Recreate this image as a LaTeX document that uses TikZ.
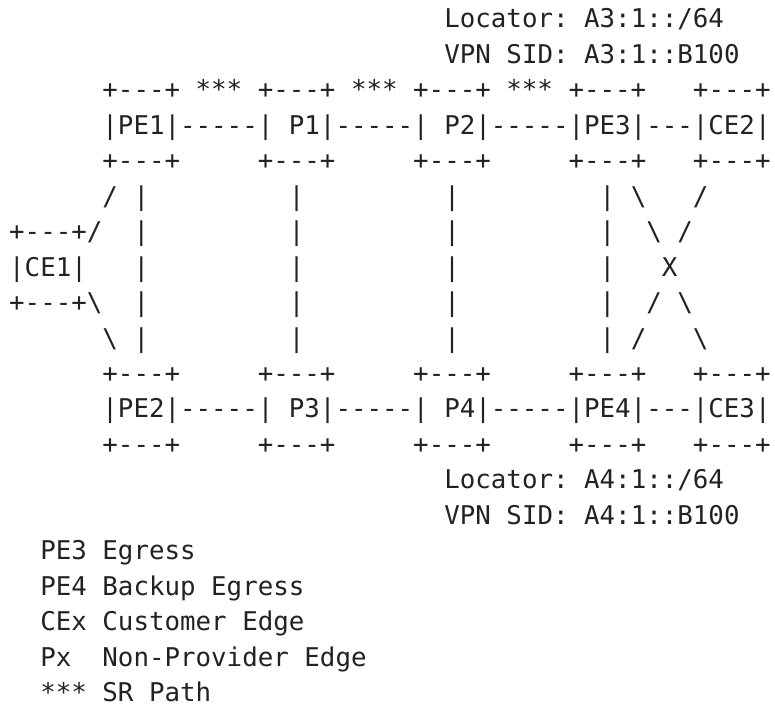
\documentclass[tikz,border=0pt]{standalone}
\usepackage{fontspec}
\setmonofont{DejaVu Sans Mono}
\definecolor{ink}{HTML}{222222}
\tikzset{
  ascii/.style={inner sep=0pt, outer sep=0pt, anchor=base west, text=ink,
    font=\ttfamily\frenchspacing\fontsize{25.81}{30}\selectfont}
}
% one run of characters at text row #1, character column #2
\newcommand\seg[3]{\node[ascii] (s#1-#2) at ({9.2+15.54*#2},{-(28+35.45*#1)}) {#3};}
\newcommand\bs{{\textbackslash}}
\begin{document}
\begin{tikzpicture}[x=1pt,y=1pt]
  \fill[white] (0,0) rectangle (775,-709);
  \useasboundingbox (0,0) rectangle (775,-709);
  % locator of PE3
  \seg{0}{28}{Locator: A3:1::/64}
  \seg{1}{28}{VPN SID: A3:1::B100}
  % upper chain PE1 - P1 - P2 - PE3 - CE2
  \seg{2}{6}{+---+ *** +---+ *** +---+ *** +---+}
  \seg{2}{44}{+---+}
  \seg{3}{6}{|PE1|-----| P1|-----| P2|-----|PE3|---|CE2|}
  \seg{4}{6}{+---+} \seg{4}{16}{+---+} \seg{4}{26}{+---+} \seg{4}{36}{+---+} \seg{4}{44}{+---+}
  % vertical links, CE1 and the cross to CE2/CE3
  \seg{5}{6}{/ |} \seg{5}{18}{|} \seg{5}{28}{|} \seg{5}{38}{| \bs} \seg{5}{44}{/}
  \seg{6}{0}{+---+/} \seg{6}{8}{|} \seg{6}{18}{|} \seg{6}{28}{|} \seg{6}{38}{|} \seg{6}{41}{\bs{} /}
  \seg{7}{0}{|CE1|} \seg{7}{8}{|} \seg{7}{18}{|} \seg{7}{28}{|} \seg{7}{38}{|} \seg{7}{42}{X}
  \seg{8}{0}{+---+\bs} \seg{8}{8}{|} \seg{8}{18}{|} \seg{8}{28}{|} \seg{8}{38}{|} \seg{8}{41}{/ \bs}
  \seg{9}{6}{\bs{} |} \seg{9}{18}{|} \seg{9}{28}{|} \seg{9}{38}{| /} \seg{9}{44}{\bs}
  % lower chain PE2 - P3 - P4 - PE4 - CE3
  \seg{10}{6}{+---+} \seg{10}{16}{+---+} \seg{10}{26}{+---+} \seg{10}{36}{+---+} \seg{10}{44}{+---+}
  \seg{11}{6}{|PE2|-----| P3|-----| P4|-----|PE4|---|CE3|}
  \seg{12}{6}{+---+} \seg{12}{16}{+---+} \seg{12}{26}{+---+} \seg{12}{36}{+---+} \seg{12}{44}{+---+}
  % locator of PE4
  \seg{13}{28}{Locator: A4:1::/64}
  \seg{14}{28}{VPN SID: A4:1::B100}
  % legend
  \seg{15}{2}{PE3 Egress}
  \seg{16}{2}{PE4 Backup Egress}
  \seg{17}{2}{CEx Customer Edge}
  \seg{18}{2}{Px} \seg{18}{6}{Non-Provider Edge}
  \seg{19}{2}{*** SR Path}
\end{tikzpicture}
\end{document}
